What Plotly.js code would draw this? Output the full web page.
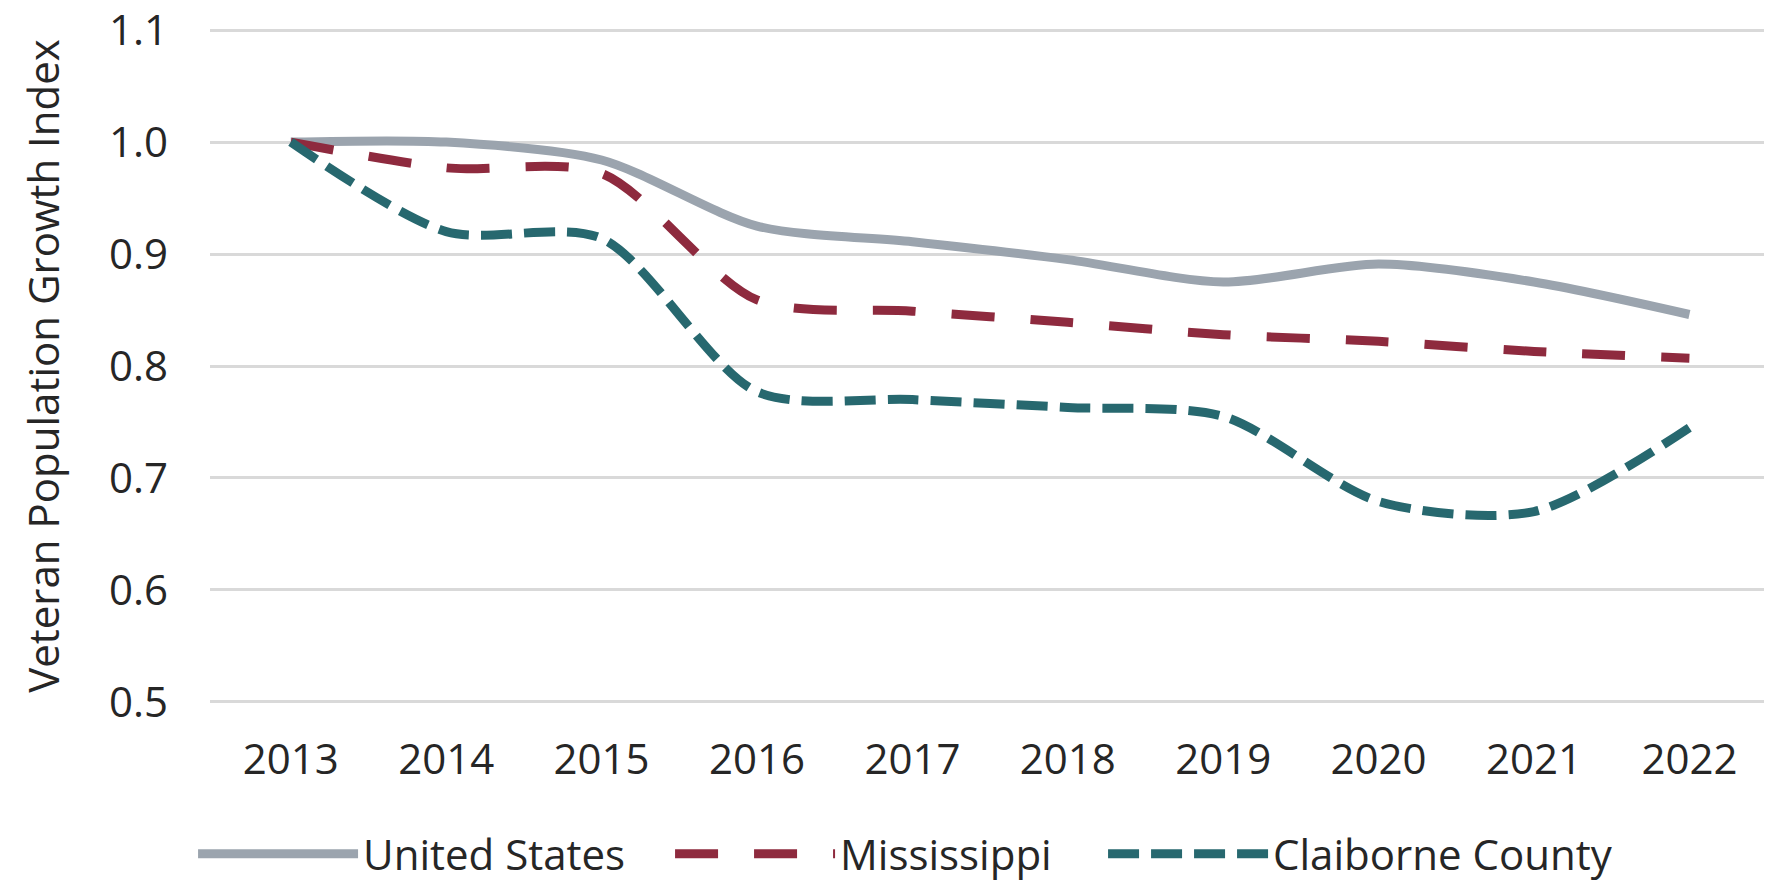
<!DOCTYPE html>
<html>
<head>
<meta charset="utf-8">
<script src="https://cdn.plot.ly/plotly-3.0.1.min.js"></script>
<style>
  html, body { margin: 0; padding: 0; background: #ffffff; }
  #chart { width: 1767px; height: 883px; }
</style>
</head>
<body>
<div id="chart"></div>
<script>
const years = ["2013", "2014", "2015", "2016", "2017", "2018", "2019", "2020", "2021", "2022"];
const unitedStates = [1.000, 1.000, 0.984, 0.925, 0.911, 0.895, 0.875, 0.891, 0.875, 0.846];
const mississippi = [1.000, 0.977, 0.972, 0.859, 0.849, 0.839, 0.828, 0.822, 0.813, 0.807];
const claiborneCounty = [1.000, 0.920, 0.914, 0.777, 0.770, 0.763, 0.755, 0.679, 0.670, 0.745];
const seriesNames = ["United States", "Mississippi", "Claiborne County"];
const yTicks = [0.5, 0.6, 0.7, 0.8, 0.9, 1.0, 1.1];
const yTickLabels = ["0.5", "0.6", "0.7", "0.8", "0.9", "1.0", "1.1"];

const FONT = "'Open Sans', 'Noto Sans', sans-serif";
const TEXT = "#262626";

const traces = [
  {
    x: years, y: unitedStates, name: seriesNames[0], type: "scatter", mode: "lines",
    legendwidth: 302,
    line: { color: "#9ba4ae", width: 9, shape: "spline", smoothing: 0.8 }
  },
  {
    x: years, y: mississippi, name: seriesNames[1], type: "scatter", mode: "lines",
    legendwidth: 258,
    line: { color: "#8e2a3e", width: 9, shape: "spline", smoothing: 0.8, dash: "43px,36px" }
  },
  {
    x: years, y: claiborneCounty, name: seriesNames[2], type: "scatter", mode: "lines",
    legendwidth: 345,
    line: { color: "#27686f", width: 9, shape: "spline", smoothing: 0.8, dash: "31px,12px" }
  }
];

const layout = {
  width: 1767,
  height: 883,
  paper_bgcolor: "#ffffff",
  plot_bgcolor: "#ffffff",
  margin: { l: 210, r: 3, t: 29, b: 180, autoexpand: false },
  font: { family: FONT, size: 42, color: TEXT },
  showlegend: true,
  legend: {
    orientation: "h",
    x: -0.0109, xanchor: "left",
    y: -0.224, yanchor: "middle",
    itemwidth: 160,
    font: { family: FONT, size: 42, color: TEXT },
    traceorder: "normal"
  },
  xaxis: {
    type: "category",
    range: [-0.52, 9.48],
    showgrid: false,
    zeroline: false,
    showline: false,
    ticks: "",
    ticklabelstandoff: 28,
    tickfont: { family: FONT, size: 42, color: TEXT },
    fixedrange: true
  },
  yaxis: {
    range: [0.499, 1.101],
    tickvals: yTicks,
    ticktext: yTickLabels,
    showgrid: true,
    gridcolor: "#d9d9d9",
    gridwidth: 3,
    zeroline: false,
    showline: false,
    ticks: "",
    ticklabelstandoff: 41,
    ticklabeloverflow: "allow",
    tickfont: { family: FONT, size: 42, color: TEXT },
    title: {
      text: "Veteran Population Growth Index\u00a0",
      font: { family: FONT, size: 42, color: TEXT },
      standoff: 36
    },
    automargin: false,
    fixedrange: true
  }
};

Plotly.newPlot("chart", traces, layout, { displayModeBar: false, staticPlot: true });
</script>
</body>
</html>
